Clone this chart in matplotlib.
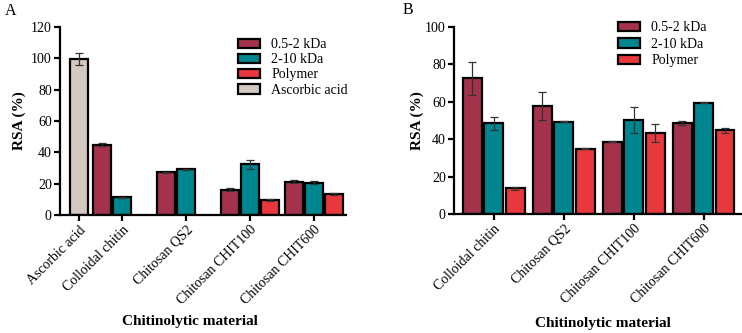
import numpy as np
import matplotlib
matplotlib.use("Agg")
import matplotlib.pyplot as plt
from matplotlib.patches import Patch

plt.rcParams['font.family'] = ['Liberation Serif', 'DejaVu Serif']

# ---- data, panel A ----
cats_a = ["Ascorbic acid", "Colloidal chitin", "Chitosan QS2", "Chitosan CHIT100", "Chitosan CHIT600"]
ascorbic = [99.5]
ascorbic_err = [4.0]
# nan = no bar in that group
low_a = [np.nan, 44.8, 27.3, 16.2, 21.4]
low_a_err = [0, 1.0, 0.4, 1.0, 0.7]
mid_a = [np.nan, 11.3, 29.3, 32.5, 20.6]
mid_a_err = [0, 0.3, 0.4, 2.8, 1.0]
poly_a = [np.nan, np.nan, np.nan, 9.7, 13.5]
poly_a_err = [0, 0, 0, 0.4, 0.8]

# ---- data, panel B ----
cats_b = ["Colloidal chitin", "Chitosan QS2", "Chitosan CHIT100", "Chitosan CHIT600"]
low_b = [72.5, 57.7, 38.8, 48.8]
low_b_err = [8.8, 7.5, 0.4, 1.0]
mid_b = [48.5, 49.3, 50.3, 59.6]
mid_b_err = [3.5, 0.2, 7.0, 0.4]
poly_b = [13.8, 35.0, 43.2, 44.7]
poly_b_err = [0.8, 0.2, 4.7, 1.4]

series_names = ["0.5-2 kDa", "2-10 kDa", "Polymer", "Ascorbic acid"]
c_low = "#A3324A"
c_mid = "#00868E"
c_poly = "#E8383D"
c_asc = "#D3C9C0"

err_kw = dict(ecolor="#333333", elinewidth=0.9, capsize=3, capthick=0.9)
bar_kw = dict(edgecolor="black", linewidth=1.6)

fig = plt.figure(figsize=(7.42, 3.33), dpi=100)
axA = fig.add_axes([0.081, 0.354, 0.385, 0.565])
axB = fig.add_axes([0.612, 0.357, 0.387, 0.562])


def style(ax, ymax, xl, yl):
    for s in ["top", "right"]:
        ax.spines[s].set_visible(False)
    for s in ["left", "bottom"]:
        ax.spines[s].set_linewidth(1.6)
    ax.set_ylim(0, ymax)
    ax.set_yticks(np.arange(0, ymax + 1, 20))
    ax.tick_params(axis="both", width=1.6, length=4, labelsize=10, pad=2)
    ax.set_ylabel("RSA (%)", fontsize=11, fontweight="bold")
    ax.set_xlabel("Chitinolytic material", fontsize=11, fontweight="bold")
    ax.yaxis.label.set_va("center")
    ax.xaxis.label.set_va("center")
    ax.xaxis.set_label_coords(*xl)
    ax.yaxis.set_label_coords(*yl)


# panel A: ascorbic acid sits closer to the first group
pos_a = np.array([1 - 43 / 64, 1, 2, 3, 4])
wa, da = 0.28, 0.3125
axA.bar(pos_a[:1], ascorbic, wa, yerr=ascorbic_err, color=c_asc, error_kw=err_kw, **bar_kw, zorder=2)
for vals, errs, off, col in [(low_a, low_a_err, -da, c_low), (mid_a, mid_a_err, 0, c_mid),
                             (poly_a, poly_a_err, da, c_poly)]:
    v = np.array(vals, dtype=float)
    m = ~np.isnan(v)
    axA.bar(pos_a[m] + off, v[m], wa, yerr=np.array(errs)[m], color=col, error_kw=err_kw, **bar_kw, zorder=2)
axA.set_xlim(0.03, 4.5)
axA.set_xticks(pos_a)
axA.set_xticklabels(cats_a, rotation=45, ha="right", rotation_mode="anchor", fontsize=10)
style(axA, 120, (0.453, -0.564), (-0.143, 0.5))
handles = [Patch(facecolor=c, edgecolor="black", linewidth=1.6) for c in [c_low, c_mid, c_poly, c_asc]]
axA.legend(handles, series_names, loc="upper left", bbox_to_anchor=(0.622, 0.94), frameon=False,
           fontsize=10, handlelength=1.6, handleheight=0.7, labelspacing=0.15, handletextpad=0.8,
           borderpad=0, borderaxespad=0)

# panel B
pos_b = np.arange(1, 5)
wb, db = 0.27, 0.307
for vals, errs, off, col in [(low_b, low_b_err, -db, c_low), (mid_b, mid_b_err, 0, c_mid),
                             (poly_b, poly_b_err, db, c_poly)]:
    axB.bar(pos_b + off, vals, wb, yerr=errs, color=col, error_kw=err_kw, **bar_kw, zorder=2)
axB.set_xlim(0.43, 4.54)
axB.set_xticks(pos_b)
axB.set_xticklabels(cats_b, rotation=45, ha="right", rotation_mode="anchor", fontsize=10)
style(axB, 100, (0.519, -0.583), (-0.129, 0.5))
axB.legend(handles[:3], series_names[:3], loc="upper left", bbox_to_anchor=(0.571, 1.03), frameon=False,
           fontsize=10, handlelength=1.6, handleheight=0.7, labelspacing=0.25, handletextpad=0.8,
           borderpad=0, borderaxespad=0)

fig.text(0.006, 0.99, "A", fontsize=11.5, va="top")
fig.text(0.543, 0.995, "B", fontsize=11.5, va="top")

fig.savefig("out.png", dpi=100)
